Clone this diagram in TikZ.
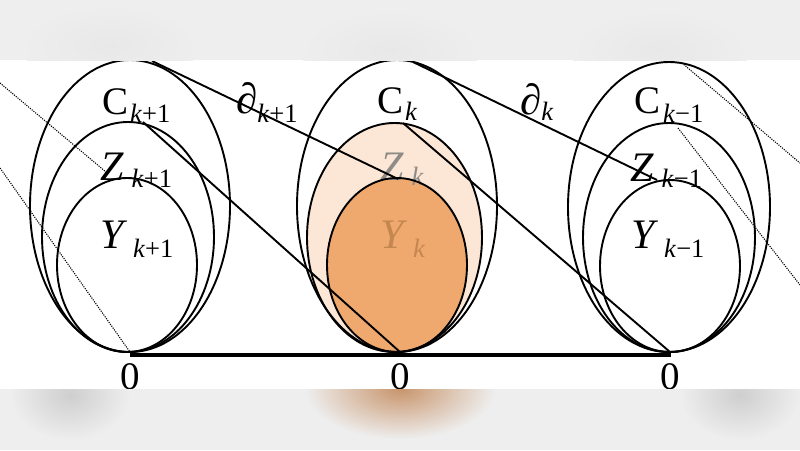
\documentclass[tikz,border=0pt]{standalone}
\usepackage{fontspec}
\setmainfont{Liberation Serif}
\usetikzlibrary{shapes.geometric}
\definecolor{bandgray}{HTML}{EEEEEE}
\definecolor{zfill}{HTML}{FCE7D6}
\definecolor{yfill}{HTML}{EFA86D}
\definecolor{ztext}{HTML}{8E8A86}
\definecolor{ytext}{HTML}{C4874F}
\definecolor{blobor}{HTML}{C8956C}
\newcommand{\mainsz}{\fontsize{39}{39}\selectfont}
\newcommand{\bigsz}{\fontsize{42}{42}\selectfont}
\newcommand{\delsz}{\fontsize{43}{43}\selectfont}
\newcommand{\subsz}{\fontsize{26.5}{26.5}\selectfont}
\newcommand{\lbl}[4]{{\mainsz #1}\kern#3pt\raisebox{-#4pt}{\subsz #2}}
\newcommand{\lblb}[4]{{\bigsz #1}\kern#3pt\raisebox{-#4pt}{\subsz #2}}
\newcommand{\lbld}[4]{{\delsz #1}\kern#3pt\raisebox{-#4pt}{\subsz #2}}
\begin{document}
\begin{tikzpicture}[x=1pt,y=-1pt,
  setb/.style={draw=black, line width=1.9pt, ellipse, inner sep=0pt, outer sep=0pt},
  mapline/.style={line width=1.9pt},
  faint/.style={line width=1.1pt, dash pattern=on 1.1pt off 1.2pt},
  lab/.style={anchor=base west, inner sep=0pt, outer sep=0pt},
  zero/.style={anchor=base, inner sep=0pt, outer sep=0pt, font=\mainsz}]
\useasboundingbox (0,0) rectangle (800,450);
\fill[white] (0,0) rectangle (800,450);

% fills of the middle group
\fill[zfill] (394.5,237.5) ellipse [x radius=87.5, y radius=114.5];
\fill[yfill] (397,265) ellipse [x radius=70, y radius=87];

% labels
\node[lab] (lC1) at (102,114) {\lbl{C}{\textit{k}+1}{2}{8}};
\node[lab] (lZ1) at (100,180) {\lblb{\textit{Z}}{\textit{k}+1}{8}{7}};
\node[lab] (lY1) at (100,248) {\lblb{\textit{Y}}{\textit{k}+1}{6}{9}};

\node[lab] (lC2) at (377,113) {\lbl{C}{\textit{k}}{2}{7}};
\node[lab, text=ztext] (lZ2) at (380,180) {\lblb{\textit{Z}}{\textit{k}}{8}{5}};
\node[lab, text=ytext] (lY2) at (380,248) {\lblb{\textit{Y}}{\textit{k}}{6}{9}};

\node[lab] (lC3) at (634,113) {\lbl{C}{\textit{k}−1}{3}{9}};
\node[lab] (lZ3) at (630,181) {\lblb{\textit{Z}}{\textit{k}−1}{8}{6}};
\node[lab] (lY3) at (631,248) {\lblb{\textit{Y}}{\textit{k}−1}{6}{9}};

\node[lab] (d1) at (236,113) {\lbld{∂}{\textit{k}+1}{0}{9}};
\node[lab] (d2) at (520,114) {\lbld{∂}{\textit{k}}{0}{6}};

% ellipses (sets)
\node[setb, minimum width=200pt, minimum height=292pt] (C1) at (130,206) {};
\node[setb, minimum width=172pt, minimum height=230pt] (Z1) at (128,237) {};
\node[setb, minimum width=140pt, minimum height=174pt] (Y1) at (127,265) {};

\node[setb, minimum width=200pt, minimum height=292pt] (C2) at (397,206) {};
\node[setb, minimum width=175pt, minimum height=229pt] (Z2) at (394.5,237.5) {};
\node[setb, minimum width=140pt, minimum height=174pt] (Y2) at (397,265) {};

\node[setb, minimum width=202pt, minimum height=290pt] (C3) at (669,207) {};
\node[setb, minimum width=172pt, minimum height=229pt] (Z3) at (669,237.5) {};
\node[setb, minimum width=140pt, minimum height=172pt] (Y3) at (670,266) {};

% points
\coordinate (o1) at (130,354.5);
\coordinate (o3) at (671,354.5);
\coordinate (p1) at (130,352);
\coordinate (p2) at (400,352);
\coordinate (p3) at (670,352);
\coordinate (a1) at (152,61);
\coordinate (a2) at (143,122);
\coordinate (b1) at (398,179);
\coordinate (a3) at (413,62);
\coordinate (a4) at (403,123);
\coordinate (b3) at (657,180);
\coordinate (e1) at (0,83);
\coordinate (f1) at (106,172);
\coordinate (e2) at (0,168);
\coordinate (g1) at (682,63);
\coordinate (h1) at (800,163);
\coordinate (g2) at (678,128);
\coordinate (h2) at (800,285);

% maps
\draw[mapline] (a1) -- (b1);
\draw[mapline] (a2) -- (p2);
\draw[mapline] (a3) -- (b3);
\draw[mapline] (a4) -- (p3);
\draw[faint] (e1) -- (f1);
\draw[faint] (e2) -- (p1);
\draw[faint] (g1) -- (h1);
\draw[faint] (g2) -- (h2);

% base line and zeros
\draw[line width=4pt] (o1) -- (o3);
\node[zero] (z1) at (130,389.5) {0};
\node[zero] (z2) at (400,389.5) {0};
\node[zero] (z3) at (670,389.5) {0};

% blurred bands
\fill[bandgray] (0,0) rectangle (800,60);
\fill[bandgray] (0,389) rectangle (800,450);
\begin{scope}
\clip (0,389) rectangle (800,450);
\shade[inner color=gray!38, outer color=bandgray] (70,395) ellipse [x radius=60, y radius=45];
\shade[inner color=gray!38, outer color=bandgray] (740,395) ellipse [x radius=60, y radius=45];
\shade[inner color=blobor, outer color=bandgray] (400,389) ellipse [x radius=95, y radius=50];
\end{scope}
\begin{scope}
\clip (0,0) rectangle (800,60);
\shade[inner color=gray!18, outer color=bandgray] (110,45) ellipse [x radius=90, y radius=40];
\shade[inner color=gray!18, outer color=bandgray] (390,50) ellipse [x radius=90, y radius=40];
\shade[inner color=gray!18, outer color=bandgray] (660,50) ellipse [x radius=90, y radius=40];
\end{scope}
\end{tikzpicture}
\end{document}
